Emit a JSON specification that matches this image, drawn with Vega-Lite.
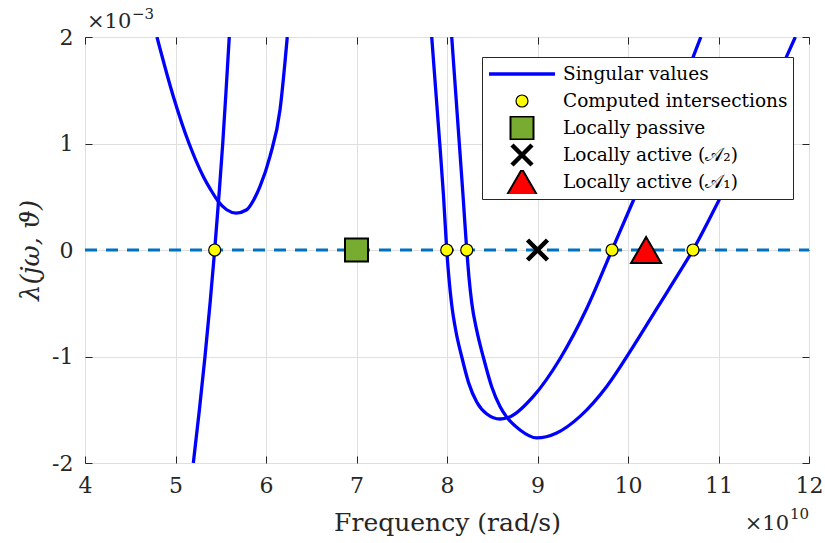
{
  "$schema": "https://vega.github.io/schema/vega-lite/v6.json",
  "width": 724,
  "height": 426,
  "autosize": {"type": "none"},
  "padding": {"left": 85, "top": 37, "right": 16, "bottom": 80},
  "background": "white",
  "config": {
    "font": "DejaVu Serif",
    "view": {"stroke": "#262626", "strokeWidth": 1},
    "axis": {
      "labelFont": "DejaVu Serif",
      "labelFontSize": 22,
      "labelColor": "#262626",
      "labelPadding": 19,
      "labelFlush": false,
      "labelOverlap": false,
      "labelBound": false,
      "tickColor": "#262626",
      "tickWidth": 1,
      "tickSize": -7,
      "domain": false,
      "gridColor": "#dfdfdf",
      "gridWidth": 1,
      "titleFont": "DejaVu Serif",
      "titleFontSize": 25,
      "titleFontWeight": "normal",
      "titleColor": "#262626"
    }
  },
  "datasets": {
    "singular": [
      {"branch": "A", "omega": 5.197e10, "lambda": -2.0e-3},
      {"branch": "A", "omega": 5.264e10, "lambda": -1.5e-3},
      {"branch": "A", "omega": 5.326e10, "lambda": -1.0e-3},
      {"branch": "A", "omega": 5.382e10, "lambda": -0.5e-3},
      {"branch": "A", "omega": 5.433e10, "lambda": 0.0},
      {"branch": "A", "omega": 5.479e10, "lambda": 0.5e-3},
      {"branch": "A", "omega": 5.522e10, "lambda": 1.0e-3},
      {"branch": "A", "omega": 5.559e10, "lambda": 1.5e-3},
      {"branch": "A", "omega": 5.594e10, "lambda": 2.0e-3},

      {"branch": "B", "omega": 4.795e10, "lambda": 2.0e-3},
      {"branch": "B", "omega": 4.976e10, "lambda": 1.442e-3},
      {"branch": "B", "omega": 5.150e10, "lambda": 1.0e-3},
      {"branch": "B", "omega": 5.307e10, "lambda": 0.691e-3},
      {"branch": "B", "omega": 5.390e10, "lambda": 0.565e-3},
      {"branch": "B", "omega": 5.473e10, "lambda": 0.456e-3},
      {"branch": "B", "omega": 5.566e10, "lambda": 0.378e-3},
      {"branch": "B", "omega": 5.669e10, "lambda": 0.347e-3},
      {"branch": "B", "omega": 5.787e10, "lambda": 0.378e-3},
      {"branch": "B", "omega": 5.870e10, "lambda": 0.480e-3},
      {"branch": "B", "omega": 5.934e10, "lambda": 0.597e-3},
      {"branch": "B", "omega": 6.044e10, "lambda": 0.879e-3},
      {"branch": "B", "omega": 6.155e10, "lambda": 1.317e-3},
      {"branch": "B", "omega": 6.235e10, "lambda": 2.0e-3},

      {"branch": "C", "omega": 7.831e10, "lambda": 2.0e-3},
      {"branch": "C", "omega": 7.920e10, "lambda": 1.0e-3},
      {"branch": "C", "omega": 7.962e10, "lambda": 0.5e-3},
      {"branch": "C", "omega": 7.997e10, "lambda": 0.0},
      {"branch": "C", "omega": 8.020e10, "lambda": -0.250e-3},
      {"branch": "C", "omega": 8.050e10, "lambda": -0.500e-3},
      {"branch": "C", "omega": 8.100e10, "lambda": -0.770e-3},
      {"branch": "C", "omega": 8.162e10, "lambda": -1.000e-3},
      {"branch": "C", "omega": 8.240e10, "lambda": -1.250e-3},
      {"branch": "C", "omega": 8.330e10, "lambda": -1.430e-3},
      {"branch": "C", "omega": 8.440e10, "lambda": -1.540e-3},
      {"branch": "C", "omega": 8.586e10, "lambda": -1.587e-3},
      {"branch": "C", "omega": 8.700e10, "lambda": -1.565e-3},
      {"branch": "C", "omega": 8.954e10, "lambda": -1.375e-3},
      {"branch": "C", "omega": 9.249e10, "lambda": -1.021e-3},
      {"branch": "C", "omega": 9.544e10, "lambda": -0.550e-3},
      {"branch": "C", "omega": 9.823e10, "lambda": 0.0},
      {"branch": "C", "omega": 10.059e10, "lambda": 0.465e-3},
      {"branch": "C", "omega": 10.343e10, "lambda": 1.020e-3},
      {"branch": "C", "omega": 10.722e10, "lambda": 1.818e-3},
      {"branch": "C", "omega": 10.805e10, "lambda": 2.0e-3},

      {"branch": "D", "omega": 8.052e10, "lambda": 2.0e-3},
      {"branch": "D", "omega": 8.136e10, "lambda": 1.0e-3},
      {"branch": "D", "omega": 8.178e10, "lambda": 0.5e-3},
      {"branch": "D", "omega": 8.218e10, "lambda": 0.0},
      {"branch": "D", "omega": 8.242e10, "lambda": -0.250e-3},
      {"branch": "D", "omega": 8.274e10, "lambda": -0.500e-3},
      {"branch": "D", "omega": 8.330e10, "lambda": -0.760e-3},
      {"branch": "D", "omega": 8.401e10, "lambda": -1.005e-3},
      {"branch": "D", "omega": 8.493e10, "lambda": -1.281e-3},
      {"branch": "D", "omega": 8.586e10, "lambda": -1.469e-3},
      {"branch": "D", "omega": 8.652e10, "lambda": -1.560e-3},
      {"branch": "D", "omega": 8.807e10, "lambda": -1.690e-3},
      {"branch": "D", "omega": 8.991e10, "lambda": -1.765e-3},
      {"branch": "D", "omega": 9.212e10, "lambda": -1.718e-3},
      {"branch": "D", "omega": 9.470e10, "lambda": -1.562e-3},
      {"branch": "D", "omega": 9.765e10, "lambda": -1.281e-3},
      {"branch": "D", "omega": 10.059e10, "lambda": -0.905e-3},
      {"branch": "D", "omega": 10.330e10, "lambda": -0.534e-3},
      {"branch": "D", "omega": 10.586e10, "lambda": -0.185e-3},
      {"branch": "D", "omega": 10.718e10, "lambda": 0.0},
      {"branch": "D", "omega": 10.998e10, "lambda": 0.456e-3},
      {"branch": "D", "omega": 11.400e10, "lambda": 1.160e-3},
      {"branch": "D", "omega": 11.753e10, "lambda": 1.818e-3},
      {"branch": "D", "omega": 11.849e10, "lambda": 2.0e-3}
    ],
    "zeroline": [
      {"omega": 4e10, "lambda": 0},
      {"omega": 12e10, "lambda": 0}
    ],
    "markers": [
      {"kind": "Computed intersections", "omega": 5.433e10, "lambda": 0},
      {"kind": "Computed intersections", "omega": 7.997e10, "lambda": 0},
      {"kind": "Computed intersections", "omega": 8.218e10, "lambda": 0},
      {"kind": "Computed intersections", "omega": 9.823e10, "lambda": 0},
      {"kind": "Computed intersections", "omega": 10.718e10, "lambda": 0},
      {"kind": "Locally passive", "omega": 7.0e10, "lambda": 0},
      {"kind": "Locally active (𝒜₂)", "omega": 9.0e10, "lambda": 0},
      {"kind": "Locally active (𝒜₁)", "omega": 10.2e10, "lambda": 0}
    ],
    "scales": [
      {"lambda": 0.002, "label": "×10", "exponent": "−3"}
    ],
    "freqscale": [
      {"omega": 12e10, "lambda": -0.002, "label": "×10", "exponent": "10"}
    ]
  },
  "layer": [
    {
      "data": {"name": "singular"},
      "mark": {"type": "line", "color": "#0000FF", "strokeWidth": 3.3, "clip": true, "interpolate": "monotone"},
      "encoding": {
        "x": {
          "field": "omega", "type": "quantitative",
          "scale": {"domain": [4e10, 12e10], "nice": false, "zero": false},
          "axis": {
            "orient": "bottom",
            "values": [4e10, 5e10, 6e10, 7e10, 8e10, 9e10, 10e10, 11e10, 12e10],
            "labelExpr": "format(datum.value / 1e10, 'd')",
            "labelBaseline": "top",
            "grid": true,
            "title": "Frequency (rad/s)",
            "titleX": 362,
            "titleY": 67,
            "titleBaseline": "alphabetic",
            "titleAlign": "center"
          }
        },
        "y": {
          "field": "lambda", "type": "quantitative",
          "scale": {"domain": [-0.002, 0.002], "nice": false, "zero": false},
          "axis": {
            "orient": "left",
            "values": [-0.002, -0.001, 0, 0.001, 0.002],
            "labelExpr": "(datum.value < 0 ? '-' : '') + format(abs(datum.value) * 1000, 'd')",
            "labelBaseline": "middle",
            "grid": true,
            "title": "λ(jω, ϑ)",
            "titleFontSize": 26,
            "titleFontStyle": "italic",
            "titleAngle": 270,
            "titleX": -55,
            "titleY": 213,
            "titleBaseline": "middle",
            "titleAlign": "center"
          }
        },
        "detail": {"field": "branch"}
      }
    },
    {
      "data": {"name": "zeroline"},
      "mark": {"type": "line", "color": "#0072BD", "strokeWidth": 3, "strokeDash": [12, 9]},
      "encoding": {
        "x": {
          "field": "omega", "type": "quantitative",
          "axis": {"orient": "top", "values": [4e10, 5e10, 6e10, 7e10, 8e10, 9e10, 10e10, 11e10, 12e10], "labels": false, "grid": false, "title": null}
        },
        "y": {
          "field": "lambda", "type": "quantitative",
          "axis": {"orient": "right", "values": [-0.002, -0.001, 0, 0.001, 0.002], "labels": false, "grid": false, "title": null}
        }
      }
    },
    {
      "data": {"name": "markers"},
      "mark": {"type": "point", "opacity": 1},
      "encoding": {
        "x": {"field": "omega", "type": "quantitative", "axis": null},
        "y": {"field": "lambda", "type": "quantitative", "axis": null},
        "shape": {
          "field": "kind", "type": "nominal",
          "scale": {
            "domain": ["Singular values", "Computed intersections", "Locally passive", "Locally active (𝒜₂)", "Locally active (𝒜₁)"],
            "range": ["stroke", "circle", "square", "M-1,-1L1,1M1,-1L-1,1", "triangle-up"]
          },
          "legend": {
            "title": null,
            "orient": "none",
            "legendX": 397,
            "legendY": 20,
            "direction": "vertical",
            "zindex": 1,
            "padding": 5,
            "fillColor": "white",
            "strokeColor": "#262626",
            "labelFont": "DejaVu Serif",
            "labelFontSize": 18.5,
            "labelColor": "black",
            "labelLimit": 400,
            "labelOffset": 6,
            "symbolOffset": 0,
            "rowPadding": 3,
            "clipHeight": 24,
            "encode": {
              "symbols": {
                "size": {"signal": "datum.index === 0 ? 4356 : datum.index === 1 ? 110 : datum.index === 2 ? 256 : datum.index === 3 ? 225 : 676"}
              }
            }
          }
        },
        "fill": {
          "field": "kind", "type": "nominal",
          "scale": {
            "domain": ["Singular values", "Computed intersections", "Locally passive", "Locally active (𝒜₂)", "Locally active (𝒜₁)"],
            "range": ["#0000FF", "#FFFF00", "#77AC30", "#000000", "#FF0000"]
          }
        },
        "stroke": {
          "field": "kind", "type": "nominal",
          "scale": {
            "domain": ["Singular values", "Computed intersections", "Locally passive", "Locally active (𝒜₂)", "Locally active (𝒜₁)"],
            "range": ["#0000FF", "#000000", "#000000", "#000000", "#000000"]
          }
        },
        "strokeWidth": {
          "field": "kind", "type": "nominal",
          "scale": {
            "type": "ordinal",
            "domain": ["Singular values", "Computed intersections", "Locally passive", "Locally active (𝒜₂)", "Locally active (𝒜₁)"],
            "range": [3.3, 1.2, 2, 4.5, 2]
          }
        },
        "size": {
          "field": "kind", "type": "nominal",
          "scale": {
            "type": "ordinal",
            "domain": ["Singular values", "Computed intersections", "Locally passive", "Locally active (𝒜₂)", "Locally active (𝒜₁)"],
            "range": [4356, 144, 529, 400, 900]
          }
        }
      }
    },
    {
      "data": {"name": "scales"},
      "mark": {"type": "text", "align": "left", "baseline": "alphabetic", "dx": 2, "dy": -9, "font": "DejaVu Serif", "fontSize": 21, "color": "#262626"},
      "encoding": {
        "x": {"datum": 4e10, "type": "quantitative", "axis": null},
        "y": {"field": "lambda", "type": "quantitative", "axis": null},
        "text": {"field": "label"}
      }
    },
    {
      "data": {"name": "scales"},
      "mark": {"type": "text", "align": "left", "baseline": "alphabetic", "dx": 47, "dy": -18, "font": "DejaVu Serif", "fontSize": 15, "color": "#262626"},
      "encoding": {
        "x": {"datum": 4e10, "type": "quantitative", "axis": null},
        "y": {"field": "lambda", "type": "quantitative", "axis": null},
        "text": {"field": "exponent"}
      }
    },
    {
      "data": {"name": "freqscale"},
      "mark": {"type": "text", "align": "right", "baseline": "alphabetic", "dx": -20, "dy": 67, "font": "DejaVu Serif", "fontSize": 21, "color": "#262626"},
      "encoding": {
        "x": {"field": "omega", "type": "quantitative", "axis": null},
        "y": {"field": "lambda", "type": "quantitative", "axis": null},
        "text": {"field": "label"}
      }
    },
    {
      "data": {"name": "freqscale"},
      "mark": {"type": "text", "align": "right", "baseline": "alphabetic", "dx": 0, "dy": 56, "font": "DejaVu Serif", "fontSize": 15, "color": "#262626"},
      "encoding": {
        "x": {"field": "omega", "type": "quantitative", "axis": null},
        "y": {"field": "lambda", "type": "quantitative", "axis": null},
        "text": {"field": "exponent"}
      }
    }
  ],
  "resolve": {"axis": {"x": "independent", "y": "independent"}}
}
